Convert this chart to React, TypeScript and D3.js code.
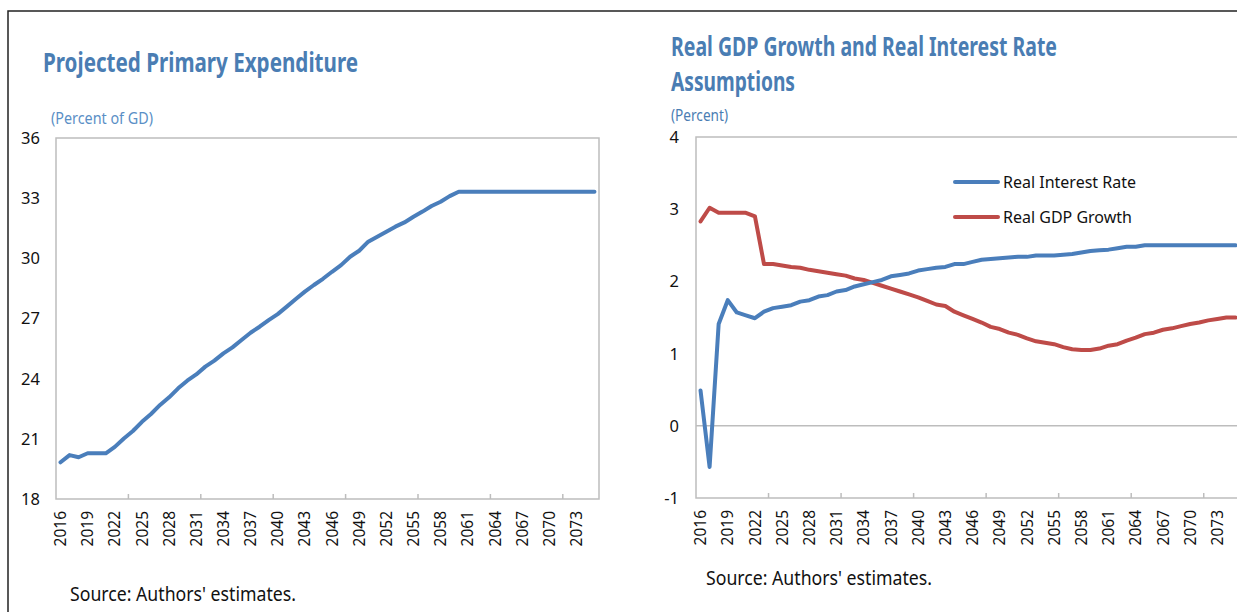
import React, { useRef, useEffect } from 'react';
import * as d3 from 'd3';

// years 2016..2075
const years: number[] = d3.range(2016, 2076);

const primaryExpenditure: number[] = [
  19.83, 20.19, 20.08, 20.28, 20.28, 20.28, 20.6, 21.02, 21.39, 21.85,
  22.24, 22.69, 23.07, 23.52, 23.9, 24.21, 24.6, 24.9, 25.26, 25.56,
  25.93, 26.29, 26.59, 26.92, 27.22, 27.59, 27.97, 28.34, 28.67, 28.98,
  29.33, 29.66, 30.08, 30.38, 30.83, 31.08, 31.33, 31.58, 31.79, 32.07,
  32.33, 32.61, 32.82, 33.1, 33.32, 33.32, 33.32, 33.32, 33.32, 33.32,
  33.32, 33.32, 33.32, 33.32, 33.32, 33.32, 33.32, 33.32, 33.32, 33.32,
];

const realInterestRate: number[] = [
  0.49, -0.57, 1.41, 1.74, 1.57, 1.53, 1.49, 1.58, 1.63, 1.65,
  1.67, 1.72, 1.74, 1.79, 1.81, 1.86, 1.88, 1.93, 1.96, 1.99,
  2.02, 2.07, 2.09, 2.11, 2.15, 2.17, 2.19, 2.2, 2.24, 2.24,
  2.27, 2.3, 2.31, 2.32, 2.33, 2.34, 2.34, 2.36, 2.36, 2.36,
  2.37, 2.38, 2.4, 2.42, 2.43, 2.44, 2.46, 2.48, 2.48, 2.5,
  2.5, 2.5, 2.5, 2.5, 2.5, 2.5, 2.5, 2.5, 2.5, 2.5,
];

const realGdpGrowth: number[] = [
  2.83, 3.02, 2.95, 2.95, 2.95, 2.95, 2.9, 2.24, 2.24, 2.22,
  2.2, 2.19, 2.16, 2.14, 2.12, 2.1, 2.08, 2.04, 2.02, 1.98,
  1.94, 1.9, 1.86, 1.82, 1.78, 1.73, 1.68, 1.66, 1.58, 1.53,
  1.48, 1.43, 1.37, 1.34, 1.29, 1.26, 1.21, 1.17, 1.15, 1.13,
  1.09, 1.06, 1.05, 1.05, 1.07, 1.11, 1.13, 1.18, 1.22, 1.27,
  1.29, 1.33, 1.35, 1.38, 1.41, 1.43, 1.46, 1.48, 1.5, 1.5,
];

const leftYTicks = [18, 21, 24, 27, 30, 33, 36];
const rightYTicks = [-1, 0, 1, 2, 3, 4];
const labelYears = years.filter((y) => (y - 2016) % 3 === 0);

const BLUE = '#4a7ebb';
const RED = '#be4b48';
const TITLE = '#4a7db3';
const AXIS = '#bdbdbd';
const FONT = '"Noto Sans", "Open Sans", sans-serif';

type Panel = {
  x0: number; x1: number; y0: number; y1: number;
  domain: [number, number];
  yTicks: number[];
  labelRight: number;
};

const App: React.FC = () => {
  const svgRef = useRef<SVGSVGElement | null>(null);

  useEffect(() => {
    const svg = d3.select(svgRef.current);
    svg.selectAll('*').remove();

    // outer frame (top + left)
    svg.append('path')
      .attr('d', 'M8,612 L8,11 L1237,11')
      .attr('fill', 'none')
      .attr('stroke', '#222')
      .attr('stroke-width', 1.5);

    const drawPanel = (p: Panel, series: { values: number[]; color: string }[], zeroLine: boolean) => {
      const x = d3.scaleBand<number>().domain(years).range([p.x0, p.x1]).padding(0);
      const y = d3.scaleLinear().domain(p.domain).range([p.y1, p.y0]);
      const g = svg.append('g');

      if (zeroLine) {
        g.append('line')
          .attr('x1', p.x0).attr('x2', p.x1)
          .attr('y1', y(0)).attr('y2', y(0))
          .attr('stroke', AXIS).attr('stroke-width', 1.5);
      }

      g.append('rect')
        .attr('x', p.x0).attr('y', p.y0)
        .attr('width', p.x1 - p.x0).attr('height', p.y1 - p.y0)
        .attr('fill', 'none').attr('stroke', AXIS).attr('stroke-width', 1.5);

      // tick marks every 8 categories (pointing into plot)
      years.forEach((yr, i) => {
        if (i % 8 === 0 && i > 0) {
          const tx = x(yr)!;
          g.append('line')
            .attr('x1', tx).attr('x2', tx)
            .attr('y1', p.y1).attr('y2', p.y1 - 5)
            .attr('stroke', AXIS).attr('stroke-width', 1.5);
        }
      });

      // y labels
      g.selectAll('text.ylab')
        .data(p.yTicks)
        .enter()
        .append('text')
        .attr('x', p.labelRight)
        .attr('y', (d) => y(d))
        .attr('dy', '0.36em')
        .attr('text-anchor', 'end')
        .style('font-family', FONT)
        .style('font-size', '16.5px')
        .style('fill', '#111')
        .text((d) => String(d));

      // x labels rotated
      g.selectAll('text.xlab')
        .data(labelYears)
        .enter()
        .append('text')
        .attr('transform', (d) => `translate(${x(d)! + x.bandwidth() / 2},${p.y1 + 12}) rotate(-90)`)
        .attr('dy', '0.36em')
        .attr('text-anchor', 'end')
        .style('font-family', FONT)
        .style('font-size', '15.5px')
        .style('fill', '#111')
        .text((d) => String(d));

      const line = d3.line<number>()
        .x((_, i) => x(years[i])! + x.bandwidth() / 2)
        .y((d) => y(d));

      series.forEach((s) => {
        g.append('path')
          .datum(s.values)
          .attr('d', line)
          .attr('fill', 'none')
          .attr('stroke', s.color)
          .attr('stroke-width', 4)
          .attr('stroke-linejoin', 'round')
          .attr('stroke-linecap', 'round');
      });
    };

    drawPanel(
      { x0: 56, x1: 599, y0: 138, y1: 499, domain: [18, 36], yTicks: leftYTicks, labelRight: 40 },
      [{ values: primaryExpenditure, color: BLUE }],
      false,
    );

    drawPanel(
      { x0: 696, x1: 1240, y0: 137, y1: 498, domain: [-1, 4], yTicks: rightYTicks, labelRight: 679 },
      [
        { values: realGdpGrowth, color: RED },
        { values: realInterestRate, color: BLUE },
      ],
      true,
    );

    // titles
    const titleText = (t: string, x: number, y: number, w: number) =>
      svg.append('text')
        .attr('x', x).attr('y', y)
        .attr('textLength', w).attr('lengthAdjust', 'spacingAndGlyphs')
        .style('font-family', FONT)
        .style('font-weight', 700)
        .style('font-size', '27px')
        .style('fill', TITLE)
        .text(t);

    titleText('Projected Primary Expenditure', 43, 72, 315);
    titleText('Real GDP Growth and Real Interest Rate', 671, 56, 386);
    titleText('Assumptions', 671, 91, 124);

    const sub = (t: string, x: number, y: number, w: number, c: string) =>
      svg.append('text')
        .attr('x', x).attr('y', y)
        .attr('textLength', w).attr('lengthAdjust', 'spacingAndGlyphs')
        .style('font-family', FONT)
        .style('font-size', '17px')
        .style('fill', c)
        .text(t);

    sub('(Percent of GD)', 51, 124, 102, '#5a8fc6');
    sub('(Percent)', 671, 121, 57, TITLE);

    // legend
    const legend = [
      { label: 'Real Interest Rate', color: BLUE, y: 182 },
      { label: 'Real GDP Growth', color: RED, y: 217 },
    ];
    legend.forEach((l) => {
      svg.append('line')
        .attr('x1', 955).attr('x2', 998)
        .attr('y1', l.y).attr('y2', l.y)
        .attr('stroke', l.color).attr('stroke-width', 4)
        .attr('stroke-linecap', 'round');
      svg.append('text')
        .attr('x', 1003).attr('y', l.y)
        .attr('dy', '0.36em')
        .style('font-family', FONT)
        .style('font-size', '16px')
        .style('fill', '#111')
        .text(l.label);
    });

    // sources
    const source = (x: number, y: number) =>
      svg.append('text')
        .attr('x', x).attr('y', y)
        .attr('textLength', 226).attr('lengthAdjust', 'spacingAndGlyphs')
        .style('font-family', FONT)
        .style('font-size', '20px')
        .style('fill', '#111')
        .text("Source: Authors' estimates.");
    source(70, 601);
    source(706, 585);

    return () => {
      svg.selectAll('*').remove();
    };
  }, []);

  return (
    <svg
      ref={svgRef}
      width={1237}
      height={612}
      style={{ position: 'absolute', left: 0, top: 0, background: '#fff' }}
    />
  );
};

export default App;
